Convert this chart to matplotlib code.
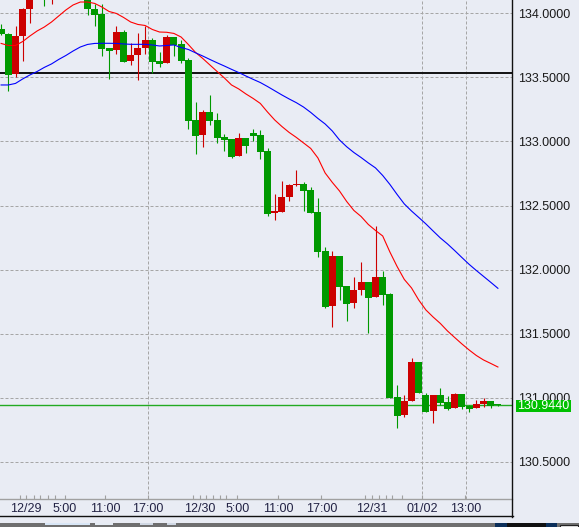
import matplotlib
matplotlib.use("Agg")
import matplotlib.pyplot as plt
import matplotlib.transforms as mtransforms
from matplotlib.patches import Rectangle
from matplotlib.lines import Line2D

# ---------------- data ----------------
opens = [133.875, 133.839, 133.527, 133.826, 134.034, 134.12, 134.20, 134.12, 134.18, 134.14,
         134.19, 134.15, 134.18, 134.034, 133.995, 133.730, 133.714, 133.854, 133.628, 133.675,
         133.730, 133.792, 133.628, 133.613, 133.815, 133.761, 133.636, 133.168, 133.051, 133.230,
         133.168, 133.035, 133.020, 132.887, 133.028, 133.067, 133.051, 132.926, 132.443, 132.450,
         132.567, 132.661, 132.669, 132.622, 132.450, 132.146, 131.717, 132.107, 131.873, 131.741,
         131.842, 131.904, 131.787, 131.943, 131.811, 131.007, 130.867, 130.976, 131.280, 131.023,
         130.898, 131.023, 130.968, 130.922, 131.031, 130.937, 130.922, 130.953, 130.976, 130.952]
highs = [133.917, 133.849, 133.901, 134.042, 134.15, 134.19, 134.22, 134.21, 134.20, 134.22,
         134.21, 134.20, 134.19, 134.073, 134.073, 133.730, 133.901, 133.870, 133.769, 133.847,
         133.901, 133.808, 133.698, 133.831, 133.815, 133.792, 133.652, 133.308, 133.246, 133.363,
         133.223, 133.059, 133.020, 133.067, 133.028, 133.098, 133.090, 132.950, 132.591, 132.692,
         132.669, 132.778, 132.684, 132.645, 132.560, 132.177, 132.146, 132.107, 131.873, 131.943,
         132.060, 131.904, 132.341, 131.990, 131.819, 131.101, 131.023, 131.312, 131.280, 131.039,
         131.023, 131.078, 131.015, 131.039, 131.031, 130.945, 130.984, 131.000, 130.976, 130.953]
lows = [133.831, 133.397, 133.501, 133.631, 133.927, 134.11, 134.06, 134.07, 134.12, 134.13,
        134.13, 134.14, 133.985, 133.904, 133.667, 133.490, 133.683, 133.620, 133.597, 133.480,
        133.683, 133.535, 133.581, 133.613, 133.667, 133.613, 133.098, 132.903, 132.957, 133.129,
        132.989, 132.926, 132.872, 132.887, 132.911, 133.004, 132.864, 132.419, 132.388, 132.450,
        132.536, 132.653, 132.458, 132.443, 132.099, 131.702, 131.553, 131.764, 131.600, 131.702,
        131.803, 131.507, 131.787, 131.725, 130.999, 130.766, 130.851, 130.976, 131.039, 130.890,
        130.805, 130.945, 130.906, 130.922, 130.914, 130.890, 130.922, 130.929, 130.922, 130.940]
closes = [133.836, 133.517, 133.823, 134.034, 134.12, 134.17, 134.12, 134.18, 134.14, 134.19,
          134.15, 134.18, 134.031, 133.989, 133.722, 133.706, 133.854, 133.620, 133.675, 133.730,
          133.792, 133.620, 133.605, 133.815, 133.753, 133.628, 133.160, 133.043, 133.230, 133.160,
          133.028, 133.012, 132.879, 133.028, 132.965, 133.043, 132.918, 132.435, 132.458, 132.567,
          132.661, 132.669, 132.614, 132.443, 132.138, 131.709, 132.107, 131.865, 131.733, 131.842,
          131.904, 131.780, 131.943, 131.803, 130.999, 130.859, 130.976, 131.280, 131.039, 130.890,
          131.023, 130.961, 130.914, 131.031, 130.929, 130.914, 130.953, 130.976, 130.937, 130.944]

ma_short = [133.765, 133.749, 133.749, 133.780, 133.823, 133.862, 133.893, 133.932, 133.979, 134.026,
            134.065, 134.088, 134.088, 134.077, 134.049, 134.014, 133.999, 133.968, 133.932, 133.913,
            133.905, 133.874, 133.854, 133.852, 133.843, 133.815, 133.757, 133.695, 133.648, 133.597,
            133.546, 133.496, 133.441, 133.410, 133.371, 133.336, 133.297, 133.230, 133.168, 133.117,
            133.071, 133.032, 132.989, 132.946, 132.872, 132.755, 132.681, 132.614, 132.532, 132.462,
            132.415, 132.353, 132.306, 132.263, 132.138, 132.025, 131.924, 131.858, 131.764, 131.686,
            131.631, 131.581, 131.522, 131.471, 131.421, 131.374, 131.331, 131.296, 131.269, 131.241]
ma_long = [133.441, 133.441, 133.453, 133.488, 133.519, 133.546, 133.578, 133.605, 133.640, 133.671,
           133.706, 133.737, 133.757, 133.765, 133.766, 133.766, 133.765, 133.761, 133.758, 133.758,
           133.758, 133.753, 133.745, 133.749, 133.753, 133.733, 133.718, 133.692, 133.667, 133.640,
           133.614, 133.589, 133.563, 133.538, 133.511, 133.485, 133.460, 133.429, 133.396, 133.363,
           133.332, 133.303, 133.269, 133.227, 133.180, 133.137, 133.082, 133.012, 132.959, 132.914,
           132.875, 132.833, 132.794, 132.735, 132.665, 132.587, 132.513, 132.458, 132.408, 132.357,
           132.302, 132.248, 132.201, 132.149, 132.095, 132.042, 131.994, 131.948, 131.902, 131.855]

ref_level = 133.535
last_price = 130.944

price_ticks = [130.5, 131.0, 131.5, 132.0, 132.5, 133.0, 133.5, 134.0]
time_labels = ["12/29", "5:00", "11:00", "17:00", "12/30", "5:00", "11:00", "17:00",
               "12/31", "01/02", "13:00"]

# ---------------- layout ----------------
W, H = 579, 527
BG = "#e9ecf4"
GREEN = "#009900"
RED = "#cc0000"
GRID = "#a6a6a6"
FONT = ["Liberation Sans", "DejaVu Sans"]

time_pos = [3.46, 8.83, 14.47, 20.40, 27.56, 32.83, 38.46, 44.47, 51.51, 58.46, 64.46]
minor_pos = [2.6, 4.5, 5.4, 6.5, 7.5, 26.7, 28.5, 29.4, 30.4, 31.3,
             50.6, 52.5, 53.4, 54.3, 55.7]
vgrid_pos = [20.44, 58.5, 64.5]

fig = plt.figure(figsize=(W / 100, H / 100), dpi=100)
fig.patch.set_facecolor(BG)

ax_bottom_px = 499.3
ax_right_px = 512.0
ax = fig.add_axes([0, 1 - ax_bottom_px / H, ax_right_px / W, ax_bottom_px / H])
ax.set_facecolor(BG)

n = len(closes)
xs = list(range(n))
x_left = (0 - 1.1) / 7.2
x_right = (ax_right_px - 1.1) / 7.2
ax.set_xlim(x_left, x_right)
y_top = 134.0 + 13.3 / 128.2
y_bot = y_top - ax_bottom_px / 128.2
ax.set_ylim(y_bot, y_top)

# grid
for p in price_ticks:
    ax.axhline(p, color=GRID, lw=0.72, dashes=(3, 2), zorder=1)
for v in vgrid_pos:
    ax.axvline(v, color=GRID, lw=0.72, dashes=(3, 2), zorder=1)

# reference lines
ax.axhline(ref_level, color="#111111", lw=1.4, zorder=2)
ax.axhline(last_price, color="#22aa22", lw=1.0, zorder=2)

# moving averages
ax.plot(xs, ma_short, color="#ff0000", lw=0.8, zorder=4)
ax.plot(xs, ma_long, color="#0000ff", lw=0.8, zorder=4)

# candles
colors = [GREEN if c < o else RED for o, c in zip(opens, closes)]
bottoms = [min(o, c) for o, c in zip(opens, closes)]
heights = [max(abs(c - o), 0.008) for o, c in zip(opens, closes)]
ax.vlines(xs, lows, highs, colors=colors, lw=0.8, zorder=3)
ax.bar(xs, heights, bottom=bottoms, width=0.97, color=colors, linewidth=0, zorder=3)

# axes styling
for s in ["top", "left", "right"]:
    ax.spines[s].set_visible(False)
ax.spines["bottom"].set_color("#a0a0a0")
ax.spines["bottom"].set_linewidth(1.0)

ax.yaxis.tick_right()
ax.set_yticks(price_ticks)
ax.set_yticklabels([f"{p:.4f}" for p in price_ticks])
ax.tick_params(axis="y", length=0, pad=4.3, labelsize=9, labelcolor="#1a1a1a")

ax.set_xticks(time_pos)
ax.set_xticklabels(time_labels)
ax.set_xticks(minor_pos, minor=True)
ax.tick_params(axis="x", which="both", direction="in", length=3, width=0.8,
               color="#a0a0a0", pad=2.5, labelsize=9, labelcolor="#222244")
for lab in ax.get_xticklabels() + ax.get_yticklabels():
    lab.set_family(FONT)

# last-price tag
trans = mtransforms.blended_transform_factory(ax.transAxes, ax.transData)
tag_h = 12.4 / 128.2
ax.add_patch(Rectangle(((515.7) / ax_right_px, last_price - tag_h / 2 - 0.006),
                       (571 - 515.7) / ax_right_px, tag_h, transform=trans,
                       facecolor="#00c000", edgecolor="none", clip_on=False, zorder=10))
ax.text(517.3 / ax_right_px, last_price - 0.006, f"{last_price:.4f}", transform=trans,
        ha="left", va="center", color="white", fontsize=9, family=FONT,
        clip_on=False, zorder=11)

# frame lines (figure pixels)
def fx(px):
    return px / W

def fy(py):
    return 1 - py / H

fig.add_artist(Line2D([fx(512.2), fx(512.2)], [fy(0), fy(516.5)], color="#111111", lw=1.0))
fig.add_artist(Line2D([fx(0), fx(512.7)], [fy(516.3), fy(516.3)], color="#111111", lw=1.0))

# bottom strip
fig.add_artist(Rectangle((0, 0), 1, fy(523.3), transform=fig.transFigure,
                         facecolor="#6f6f6f", edgecolor="none"))
for x0, x1, c in [(45, 90, "#d8e6f6"), (95, 113, "#e6ecf4"), (140, 153, "#d0d8e4"),
                  (167, 176, "#d0d8e4")]:
    fig.add_artist(Rectangle((fx(x0), fy(525.3)), fx(x1) - fx(x0), fy(523.3) - fy(525.3),
                             transform=fig.transFigure, facecolor=c, edgecolor="none"))
for x0, x1, c in [(495, 507, "#0b2f5a"), (507, 546, "#111111"), (546, 557, "#0b2f5a")]:
    fig.add_artist(Rectangle((fx(x0), 0), fx(x1) - fx(x0), fy(523.3), transform=fig.transFigure,
                             facecolor=c, edgecolor="none"))
fig.add_artist(Rectangle((fx(560), 0), fx(578) - fx(560), fy(524.5), transform=fig.transFigure,
                         facecolor="#f0f0f0", edgecolor="#222222", lw=0.8))

fig.savefig("out.png", dpi=100, facecolor=BG)
